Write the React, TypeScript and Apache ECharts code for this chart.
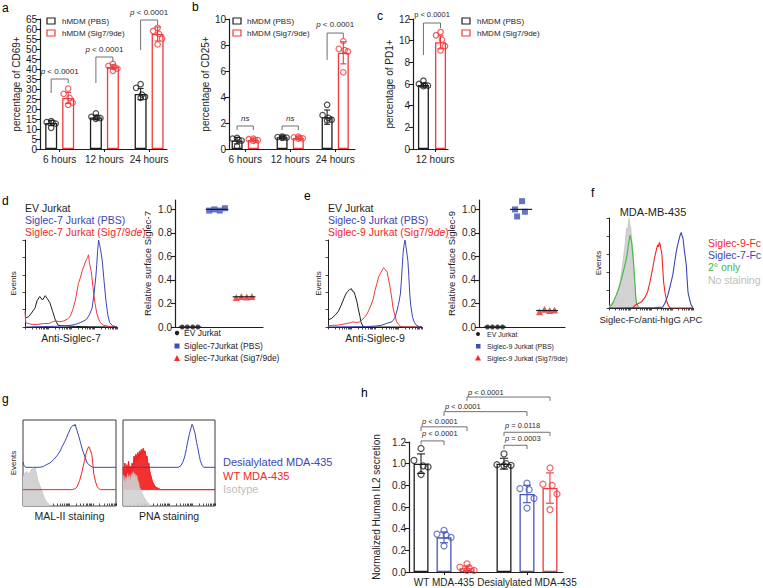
import { useEffect, useRef } from "react";
import * as echarts from "echarts";

const FONT = "'Liberation Sans', Arial, Helvetica, sans-serif";
const INK = "#1e1e1e";
const RED = "#f0393b";
const BLUE = "#4655c2";
const NAVY = "#3b45b3";
const GREEN = "#41b841";
const GREY = "#bcbcbc";
const GREY_FILL = "#d2d2d2";
const BRK = "#707070";

// ---------- panel a : CD69+
const A_CATS = ["6 hours", "12 hours", "24 hours"];
const A_PBS_MEAN = [13, 15.8, 27.5];
const A_PBS_SD = [1.3, 1.1, 2.8];
const A_SIG_MEAN = [25.5, 41, 57.5];
const A_SIG_SD = [2.8, 1.0, 3.5];
const A_PBS_DOTS = [[13.9, 10.6, 13.4, 12.7, 13.2], [17.8, 15.1, 16.1, 15.4, 15.7], [32.4, 25.6, 30.6, 26.1, 27.2]];
const A_SIG_DOTS = [[30.2, 22.1, 27.6, 23.2, 25.6], [42.6, 39.1, 41.6, 40.2, 41.0], [60.6, 52.3, 59.0, 55.2, 57.6]];

// ---------- panel b : CD25+
const B_CATS = ["6 hours", "12 hours", "24 hours"];
const B_PBS_MEAN = [0.65, 0.9, 2.45];
const B_PBS_SD = [0.25, 0.07, 0.55];
const B_SIG_MEAN = [0.7, 0.85, 7.4];
const B_SIG_SD = [0.07, 0.08, 0.85];
const B_PBS_DOTS = [[0.85, 0.2, 0.8, 0.65, 0.7], [0.95, 0.86, 0.92, 0.88, 0.9], [3.4, 2.2, 2.6, 2.25, 2.4]];
const B_SIG_DOTS = [[0.8, 0.62, 0.75, 0.68, 0.7], [0.95, 0.8, 0.9, 0.82, 0.86], [8.3, 5.9, 7.7, 7.5, 7.6]];

// ---------- panel c : PD1+
const C_CATS = ["12 hours"];
const C_PBS_MEAN = [5.9];
const C_PBS_SD = [0.18];
const C_SIG_MEAN = [9.85];
const C_SIG_SD = [0.6];
const C_PBS_DOTS = [[6.3, 5.8, 6.0, 5.85, 5.9]];
const C_SIG_DOTS = [[10.8, 9.1, 10.5, 9.5, 10.1]];

// ---------- panel h : IL2
const H_CATS = ["WT MDA-435", "Desialylated MDA-435"];
const H_CTRL_MEAN = [1.0, 1.0];
const H_CTRL_SD = [0.09, 0.05];
const H_S7_MEAN = [0.32, 0.72];
const H_S7_SD = [0.05, 0.08];
const H_S9_MEAN = [0.035, 0.775];
const H_S9_SD = [0.02, 0.14];
const H_CTRL_DOTS = [[1.14, 0.9, 1.03, 0.97, 0.98], [1.09, 0.98, 0.99, 0.985, 1.0]];
const H_S7_DOTS = [[0.385, 0.24, 0.35, 0.32, 0.34], [0.82, 0.59, 0.77, 0.68, 0.76]];
const H_S9_DOTS = [[0.075, 0.015, 0.045, 0.015, 0.04], [0.96, 0.575, 0.81, 0.72, 0.8]];

// ---------- panels d / e : relative surface siglec
const SC_TICKS = [0, 0.2, 0.4, 0.6, 0.8, 1.0];
const D_EV = [0, 0, 0, 0];
const D_PBS = [0.99, 1.0, 0.99, 1.01];
const D_SIG = [0.25, 0.26, 0.255, 0.26];
const D_MEANS = [0, 1.0, 0.257];
const E_EV = [0, 0, 0, 0];
const E_PBS = [1.0, 1.07, 0.98, 0.94];
const E_SIG = [0.13, 0.15, 0.14, 0.145];
const E_MEANS = [0, 1.0, 0.14];

// ---------- flow histograms (x: channel 0-100, y: events 0-100)
const D_H_EV = [[0, 10], [4, 12], [7, 16], [11, 22], [13, 30], [16, 35], [19, 31], [22, 36], [24, 33], [27, 28], [30, 18], [33, 8], [36, 2], [40, 1.5], [46, 1], [55, 0.6], [70, 0.3], [100, 0]];
const D_H_PBS = [[0, 0], [20, 0.5], [40, 1], [50, 2], [55, 3], [60, 5], [64, 7], [67, 9], [70, 14], [73, 22], [75, 38], [77, 58], [78, 72], [79, 88], [80, 100], [81, 95], [82, 90], [84, 76], [86, 52], [88, 30], [90, 14], [92, 5], [95, 1.5], [100, 0]];
const D_H_SIG = [[0, 18], [0.8, 5], [3, 4], [8, 3], [14, 3], [20, 4], [26, 4], [30, 6], [34, 7], [38, 6], [42, 7], [46, 9], [49, 12], [52, 20], [55, 32], [58, 50], [60, 56], [62, 64], [64, 70], [66, 76], [68, 80], [69, 83], [70, 74], [72, 64], [74, 45], [76, 28], [78, 16], [80, 9], [82, 5], [85, 2], [90, 1], [100, 0]];
const E_H_EV = [[0, 8], [4, 10], [8, 14], [11, 18], [14, 25], [17, 33], [19, 38], [21, 41], [23, 43], [25, 44], [26, 41], [28, 40], [29, 36], [31, 28], [32, 22], [34, 12], [35, 6], [37, 1], [40, 0], [100, 0]];
const E_H_PBS = [[0, 0], [40, 0.5], [50, 1], [57, 2], [62, 4], [68, 6], [71, 10], [73, 17], [75, 26], [77, 38], [78, 52], [79, 70], [80, 86], [81, 95], [82, 100], [83, 92], [85, 76], [86, 58], [87, 38], [88, 25], [90, 11], [92, 5], [94, 2], [97, 0.5], [100, 0]];
const E_H_SIG = [[0, 1], [5, 2], [10, 2], [15, 3], [20, 4], [24, 5], [27, 6], [30, 5], [34, 6], [39, 11], [42, 16], [45, 23], [48, 32], [50, 42], [52, 50], [54, 58], [56, 62], [58, 66], [59, 68], [61, 66], [63, 63], [64, 57], [66, 46], [68, 32], [69, 23], [71, 14], [73, 6], [75, 3], [77, 1], [80, 0], [100, 0]];
const F_H_NONE = [[0, 2], [1, 3], [4, 6], [7, 10], [10, 18], [13, 28], [15, 40], [17, 55], [19, 70], [20, 80], [21, 89], [22, 85], [23, 95], [24, 100], [25, 92], [26, 89], [27, 75], [28, 68], [29, 59], [30, 40], [31, 22], [32, 10], [33, 3], [34, 0], [100, 0]];
const F_H_2ND = [[0, 0], [1, 1], [3, 3], [5, 6], [7, 11], [9, 15], [11, 20], [13, 26], [15, 33], [17, 40], [19, 48], [21, 56], [22, 62], [23, 70], [24, 75], [25, 81], [26, 78], [27, 73], [28, 62], [29, 52], [30, 40], [31, 26], [32, 11], [33, 5], [35, 1], [37, 0]];
const F_H_S9 = [[28, 0], [31, 3], [35, 5], [39, 7], [43, 12], [46, 18], [49, 30], [52, 44], [54, 55], [57, 67], [58, 70], [59, 68], [60, 73], [61, 70], [63, 59], [64, 44], [65, 29], [67, 15], [69, 7], [71, 2], [73, 0], [100, 0]];
const F_H_S7 = [[0, 0], [55, 0.5], [64, 1], [67, 6], [70, 14], [73, 25], [76, 37], [78, 50], [80, 62], [81, 67], [83, 75], [85, 82], [86, 84], [87, 80], [88, 78], [90, 62], [92, 48], [93, 32], [94, 18], [96, 9], [98, 3], [100, 0]];
const G_MAL_DES = [[0, 51], [1, 47], [3, 45], [10, 45], [18, 45], [22, 46], [25, 48], [29, 50], [33, 54], [37, 59], [40, 64], [42, 69], [45, 75], [47, 80], [49, 85], [51, 90], [52, 92], [54, 94], [55, 93], [56, 95], [58, 88], [60, 81], [62, 73], [64, 65], [67, 56], [69, 50], [72, 47], [75, 45], [100, 45]];
const G_MAL_WT = [[0, 19], [53, 19], [56, 20], [58, 22], [61, 30], [63, 38], [66, 52], [68, 62], [70, 68], [71, 69], [72, 66], [74, 60], [75, 50], [76, 38], [78, 28], [80, 22], [83, 19], [100, 19]];
const G_MAL_ISO = [[0, 34], [2, 38], [4, 40], [6, 37], [8, 40], [10, 44], [11, 42], [13, 45], [14, 40], [16, 30], [18, 24], [20, 19], [22, 12], [24, 7], [26, 4], [29, 1], [32, 0], [100, 0]];
const G_PNA_DES = [[0, 45], [60, 45], [63, 47], [65, 51], [67, 57], [69, 67], [70, 73], [72, 83], [74, 91], [75, 95], [76, 93], [78, 86], [80, 74], [81, 69], [83, 58], [84, 53], [86, 47], [88, 45], [100, 45]];
const G_PNA_WT = [[0, 45], [1, 30], [2, 50], [3, 28], [4, 48], [5, 35], [6, 52], [7, 40], [8, 46], [9, 38], [10, 50], [11, 42], [12, 58], [13, 50], [14, 60], [15, 52], [16, 62], [17, 55], [18, 64], [19, 58], [20, 66], [21, 60], [22, 67], [23, 62], [24, 64], [25, 56], [26, 58], [27, 48], [28, 50], [29, 40], [30, 36], [31, 32], [32, 28], [33, 26], [34, 24], [35, 22], [37, 21], [39, 20], [41, 19], [100, 19]];
const G_PNA_WT_BASE = 19;
const G_PNA_ISO = [[0, 30], [1, 36], [2, 28], [3, 34], [4, 30], [5, 38], [6, 32], [7, 36], [8, 30], [9, 38], [10, 34], [11, 40], [12, 36], [13, 38], [14, 34], [15, 36], [16, 30], [17, 28], [18, 22], [19, 20], [20, 16], [22, 12], [24, 8], [26, 5], [28, 3], [30, 1], [32, 0], [100, 0]];

// ---------- significance annotations (data units)
const P4 = "{i|p} < 0.0001";
const A_BRACKETS = [
  { x1: 0.81, x2: 1.19, top: 35, legL: 28, legR: 33, ty: 38.8, text: P4 },
  { x1: 1.81, x2: 2.19, top: 46, legL: 33, legR: 43.5, ty: 49.8, text: P4 },
  { x1: 2.81, x2: 3.19, top: 64.5, legL: 49.5, legR: 62, ty: 68.3, text: P4 },
];
const B_BRACKETS = [
  { x1: 0.82, x2: 1.18, top: 1.77, legL: 1.46, legR: 1.46, ty: 2.38, text: "{i|ns}" },
  { x1: 1.82, x2: 2.18, top: 1.77, legL: 1.46, legR: 1.46, ty: 2.38, text: "{i|ns}" },
  { x1: 2.82, x2: 3.18, top: 8.92, legL: 6.85, legR: 8.54, ty: 9.54, text: P4 },
];
const C_BRACKETS = [{ x1: 0.81, x2: 1.19, top: 11.63, legL: 8.68, legR: 11.17, ty: 12.37, text: "p < 0.0001" }];
const H_BRACKETS = [
  { x1: 0.723, x2: 1, top: 1.21, legL: 1.18, legR: 1.17, ty: 1.28, text: P4 },
  { x1: 0.723, x2: 1.277, top: 1.34, legL: 1.3, legR: 1.3, ty: 1.39, text: P4 },
  { x1: 1, x2: 2, top: 1.48, legL: 1.44, legR: 1.44, ty: 1.53, text: P4 },
  { x1: 1.277, x2: 2.277, top: 1.615, legL: 1.58, legR: 1.58, ty: 1.66, text: P4 },
  { x1: 1.723, x2: 2.277, top: 1.29, legL: 1.255, legR: 1.255, ty: 1.355, text: "{i|p} = 0.0118" },
  { x1: 1.723, x2: 2, top: 1.17, legL: 1.135, legR: 1.135, ty: 1.23, text: "{i|p} = 0.0003" },
];

// ---------- layout helpers (positions, not data)
const JIT = [0, 0, -0.1, 0.1, 0.03];
const OFF4 = [-0.29, -0.1, 0.1, 0.29];
const E_PBS_OFF = [-0.23, 0.04, 0.15, -0.15];
const DECADE_OFF = [0, 7.5, 11.9, 15.1, 17.5, 19.5, 21.1, 22.6, 23.9];
const LOG_TICKS = [0, 25, 50, 75].flatMap((d) => DECADE_OFF.map((o) => d + o)).concat([100]);
const EV_TICKS = [0, 20, 40, 60, 80, 100];

type Group = { x: number; mean: number; sd: number; dots: number[]; color: string };

function groupsFor(centers: number[], off: number, means: number[], sds: number[], dots: number[][], color: string): Group[] {
  return centers.map((c, i) => ({ x: c + off, mean: means[i], sd: sds[i], dots: dots[i], color }));
}

function barSeries(ax: number, groups: Group[], barWidth: number, cap: number, jitScale: number, dotSize: number) {
  return [
    {
      type: "bar", xAxisIndex: ax, yAxisIndex: ax, barWidth, silent: true, z: 2,
      data: groups.map((g) => ({ value: [g.x, g.mean], itemStyle: { color: "#ffffff", borderColor: g.color, borderWidth: 1.3 } })),
    },
    {
      type: "custom", xAxisIndex: ax, yAxisIndex: ax, clip: false, silent: true, z: 3,
      data: groups.map((g) => [g.x, g.mean]),
      renderItem: (params: any, api: any) => {
        const g = groups[params.dataIndex];
        const t = api.coord([g.x, g.mean + g.sd]);
        const b = api.coord([g.x, Math.max(0, g.mean - g.sd)]);
        const st = { stroke: g.color, lineWidth: 1.1 };
        return {
          type: "group",
          children: [
            { type: "line", shape: { x1: t[0], y1: t[1], x2: b[0], y2: b[1] }, style: st },
            { type: "line", shape: { x1: t[0] - cap, y1: t[1], x2: t[0] + cap, y2: t[1] }, style: st },
            { type: "line", shape: { x1: b[0] - cap, y1: b[1], x2: b[0] + cap, y2: b[1] }, style: st },
          ],
        };
      },
    },
    {
      type: "scatter", xAxisIndex: ax, yAxisIndex: ax, symbol: "circle", symbolSize: dotSize, silent: true, z: 4,
      data: groups.flatMap((g) =>
        g.dots.map((v, i) => ({ value: [g.x + JIT[i % JIT.length] * jitScale, v], itemStyle: { color: "rgba(255,255,255,0)", borderColor: g.color, borderWidth: 1.2 } }))
      ),
    },
  ];
}

type Bracket = { x1: number; x2: number; top: number; legL: number; legR: number; ty: number; text: string };
function bracketSeries(ax: number, list: Bracket[], align: "center" | "left", fontSize: number) {
  return {
    type: "custom", xAxisIndex: ax, yAxisIndex: ax, clip: false, silent: true, z: 5,
    data: list.map((b) => [b.x1, b.top]),
    renderItem: (params: any, api: any) => {
      const b = list[params.dataIndex];
      const l = api.coord([b.x1, b.top]);
      const r = api.coord([b.x2, b.top]);
      const lb = api.coord([b.x1, b.legL]);
      const rb = api.coord([b.x2, b.legR]);
      const tp = api.coord([align === "center" ? (b.x1 + b.x2) / 2 : b.x1, b.ty]);
      return {
        type: "group",
        children: [
          { type: "polyline", shape: { points: [lb, l, r, rb] }, style: { stroke: BRK, fill: "none", lineWidth: 1 } },
          {
            type: "text", x: tp[0] + (align === "left" ? 1 : 0), y: tp[1],
            style: {
              text: b.text, fill: "#2a2a2a", fontSize, fontFamily: FONT, align, verticalAlign: "middle",
              rich: { i: { fontStyle: "italic", fontSize, fontFamily: FONT, fill: "#2a2a2a" } },
            },
          },
        ],
      };
    },
  };
}

function scatterGroupSeries(ax: number, x: number, values: number[], offs: number[], symbol: string, size: number, color: string) {
  return {
    type: "scatter", xAxisIndex: ax, yAxisIndex: ax, symbol, symbolSize: size, silent: true, z: 4,
    itemStyle: { color },
    data: values.map((v, i) => [x + offs[i], v]),
  };
}

function meanLineSeries(ax: number, xs: number[], means: number[], colors: string[], half: number) {
  return {
    type: "custom", xAxisIndex: ax, yAxisIndex: ax, clip: false, silent: true, z: 5,
    data: xs.map((x, i) => [x, means[i]]),
    renderItem: (params: any, api: any) => {
      const i = params.dataIndex;
      const a = api.coord([xs[i] - half, means[i]]);
      const b = api.coord([xs[i] + half, means[i]]);
      return { type: "line", shape: { x1: a[0], y1: a[1], x2: b[0], y2: b[1] }, style: { stroke: colors[i], lineWidth: 1.2 } };
    },
  };
}

function histLine(ax: number, data: number[][], color: string, width: number, z: number, area?: any) {
  const s: any = {
    type: "line", xAxisIndex: ax, yAxisIndex: ax, data, symbol: "none", showSymbol: false, silent: true, z,
    lineStyle: { color, width }, itemStyle: { color },
  };
  if (area) s.areaStyle = area;
  return s;
}

// filled histogram whose fill sits on a raised baseline (offset overlay)
function raisedFill(ax: number, data: number[][], base: number, color: string, z: number) {
  return {
    type: "custom", xAxisIndex: ax, yAxisIndex: ax, clip: true, silent: true, z,
    data: [data[0]],
    renderItem: (_p: any, api: any) => {
      const pts = data.filter((d) => d[1] > base || d[0] === data[0][0]).map((d) => api.coord(d));
      const lastX = data.filter((d) => d[1] > base).slice(-1)[0][0];
      const b0 = api.coord([data[0][0], base]);
      const b1 = api.coord([lastX + 2, base]);
      return { type: "polygon", shape: { points: [b0, ...pts, b1] }, style: { fill: color, stroke: color, lineWidth: 0.8, opacity: 0.95 } };
    },
  };
}

const lineSt = { color: INK, width: 1.2 };
const labelSt = (fontSize: number) => ({ fontSize, color: INK, fontFamily: FONT });

function catX(grid: number, min: number, max: number, cats: string[], pos: number[], fontSize: number) {
  return {
    type: "value", gridIndex: grid, min, max, splitLine: { show: false },
    axisLine: { show: true, onZero: false, lineStyle: lineSt },
    axisTick: { show: true, customValues: pos, length: 3, lineStyle: { color: INK, width: 1.1 } },
    axisLabel: {
      show: true, customValues: pos, margin: 5, ...labelSt(fontSize),
      formatter: (v: number) => { const k = pos.findIndex((p) => Math.abs(p - v) < 1e-6); return k >= 0 ? cats[k] : ""; },
    },
  };
}

function valY(grid: number, min: number, max: number, interval: number, name: string, nameGap: number, fmt?: (v: number) => string) {
  return {
    type: "value", gridIndex: grid, min, max, interval, splitLine: { show: false },
    axisLine: { show: true, lineStyle: lineSt },
    axisTick: { show: true, length: 4, lineStyle: { color: INK, width: 1.1 } },
    axisLabel: { margin: 3, ...labelSt(10), formatter: fmt },
    name, nameLocation: "middle", nameGap, nameRotate: 90, nameTextStyle: labelSt(10),
  };
}

function histX(grid: number, name: string, nameGap: number, fontSize: number) {
  return {
    type: "value", gridIndex: grid, min: 0, max: 100, splitLine: { show: false },
    axisLine: { show: true, onZero: false, lineStyle: { color: INK, width: 1 } },
    axisTick: { show: true, customValues: LOG_TICKS, length: 2.5, lineStyle: { color: INK, width: 0.8 } },
    axisLabel: { show: false },
    name, nameLocation: "middle", nameGap, nameTextStyle: labelSt(fontSize),
  };
}
function histY(grid: number, name: string, nameGap: number) {
  return {
    type: "value", gridIndex: grid, min: 0, max: 100, splitLine: { show: false },
    axisLine: { show: true, lineStyle: { color: INK, width: 1 } },
    axisTick: { show: true, customValues: EV_TICKS, length: 2.5, lineStyle: { color: INK, width: 0.8 } },
    axisLabel: { show: false },
    name, nameLocation: "middle", nameGap, nameRotate: 90, nameTextStyle: labelSt(8),
  };
}
function boxX(grid: number, name: string) {
  return {
    type: "value", gridIndex: grid, min: 0, max: 100, splitLine: { show: false },
    axisLine: { show: false },
    axisTick: { show: true, inside: true, customValues: LOG_TICKS, length: 2.5, lineStyle: { color: INK, width: 0.8 } },
    axisLabel: { show: false },
    name, nameLocation: "middle", nameGap: 4, nameTextStyle: labelSt(10.5),
  };
}
function boxY(grid: number, name: string) {
  return {
    type: "value", gridIndex: grid, min: 0, max: 100, splitLine: { show: false },
    axisLine: { show: false }, axisTick: { show: false }, axisLabel: { show: false },
    name, nameLocation: "middle", nameGap: 5.5, nameRotate: 90, nameTextStyle: labelSt(8),
  };
}
function scX(grid: number, min: number, max: number) {
  return {
    type: "value", gridIndex: grid, min, max, splitLine: { show: false },
    axisLine: { show: true, onZero: false, lineStyle: lineSt }, axisTick: { show: false }, axisLabel: { show: false },
  };
}
function scY(grid: number, name: string, nameGap: number) {
  return {
    type: "value", gridIndex: grid, min: 0, max: 1.08, splitLine: { show: false },
    axisLine: { show: true, lineStyle: lineSt },
    axisTick: { show: true, customValues: SC_TICKS, length: 4, lineStyle: { color: INK, width: 1.1 } },
    axisLabel: { customValues: SC_TICKS, margin: 3, ...labelSt(10), formatter: (v: number) => v.toFixed(1) },
    name, nameLocation: "middle", nameGap, nameRotate: 90, nameTextStyle: labelSt(9.5),
  };
}

function txt(x: number, y: number, text: string, fontSize: number, fill: string, align: string = "left", rich?: any) {
  return {
    type: "text", x, y, silent: true,
    style: { text, fill, fontSize, fontFamily: FONT, align, verticalAlign: "middle", textAlign: align, textVerticalAlign: "middle", rich },
  };
}
function box(x: number, y: number, color: string) {
  return { type: "rect", silent: true, shape: { x, y, width: 8, height: 6 }, style: { fill: "#ffffff", stroke: color, lineWidth: 1.2 } };
}
function italicDe(color: string, size: number) {
  return { i: { fontStyle: "italic", fill: color, fontSize: size, fontFamily: FONT } };
}

function buildOption() {
  const aCenters = [1, 2, 3];
  const A_G = [...groupsFor(aCenters, -0.19, A_PBS_MEAN, A_PBS_SD, A_PBS_DOTS, INK), ...groupsFor(aCenters, 0.19, A_SIG_MEAN, A_SIG_SD, A_SIG_DOTS, RED)];
  const B_G = [...groupsFor(aCenters, -0.18, B_PBS_MEAN, B_PBS_SD, B_PBS_DOTS, INK), ...groupsFor(aCenters, 0.18, B_SIG_MEAN, B_SIG_SD, B_SIG_DOTS, RED)];
  const C_G = [...groupsFor([1], -0.19, C_PBS_MEAN, C_PBS_SD, C_PBS_DOTS, INK), ...groupsFor([1], 0.19, C_SIG_MEAN, C_SIG_SD, C_SIG_DOTS, RED)];
  const hC = [1, 2];
  const H_G = [
    ...groupsFor(hC, -0.277, H_CTRL_MEAN, H_CTRL_SD, H_CTRL_DOTS, INK),
    ...groupsFor(hC, 0, H_S7_MEAN, H_S7_SD, H_S7_DOTS, BLUE),
    ...groupsFor(hC, 0.277, H_S9_MEAN, H_S9_SD, H_S9_DOTS, RED),
  ];

  const grid = [
    { left: 40, top: 19, width: 127, height: 130 },
    { left: 229, top: 19, width: 126, height: 130 },
    { left: 413, top: 19, width: 35, height: 130 },
    { left: 25, top: 240, width: 92, height: 87 },
    { left: 175, top: 200, width: 88, height: 127 },
    { left: 328, top: 240, width: 94, height: 87 },
    { left: 479, top: 200, width: 86, height: 127 },
    { left: 609, top: 218, width: 84, height: 90 },
    { left: 23, top: 420, width: 93, height: 86, show: true, borderColor: "#3a3a3a", borderWidth: 1 },
    { left: 123, top: 420, width: 92, height: 86, show: true, borderColor: "#3a3a3a", borderWidth: 1 },
    { left: 409, top: 442, width: 154, height: 130 },
  ];

  const xAxis = [
    catX(0, 0.56, 3.4, A_CATS, aCenters, 10),
    catX(1, 0.64, 3.44, B_CATS, aCenters, 10),
    catX(2, 0.578, 1.356, C_CATS, [1.07], 10),
    histX(3, "Anti-Siglec-7", 5, 10.5),
    scX(4, 0.444, 3.7),
    histX(5, "Anti-Siglec-9", 5, 10.5),
    scX(6, 0.385, 3.69),
    histX(7, "Siglec-Fc/anti-hIgG APC", 6, 9.5),
    boxX(8, "MAL-II staining"),
    boxX(9, "PNA staining"),
    catX(10, 0.578, 2.434, H_CATS, hC, 10),
  ];
  const yAxis = [
    valY(0, 0, 65, 5, "percentage of CD69+", 18),
    valY(1, 0, 10, 2, "percentage of CD25+", 17),
    valY(2, 0, 12, 2, "percentage of PD1+", 14.5),
    histY(3, "Events", 7.5),
    scY(4, "Relative surface Siglec-7", 23),
    histY(5, "Events", 5.5),
    scY(6, "Relative surface Siglec-9", 22.5),
    histY(7, "Events", 6.5),
    boxY(8, "Events"),
    boxY(9, ""),
    valY(10, 0, 1.2, 0.2, "Normalized Human IL2 secretion", 28, (v: number) => v.toFixed(1)),
  ];

  const series: any[] = [
    ...barSeries(0, A_G, 12, 3, 1, 5.5),
    bracketSeries(0, A_BRACKETS, "center", 8),
    ...barSeries(1, B_G, 11, 3, 1, 5.5),
    bracketSeries(1, B_BRACKETS, "center", 8),
    ...barSeries(2, C_G, 11, 3, 1, 5.5),
    bracketSeries(2, C_BRACKETS, "center", 7.5),
    ...barSeries(10, H_G, 15, 4, 0.85, 6),
    bracketSeries(10, H_BRACKETS, "left", 7.5),
    // d histogram
    histLine(3, D_H_EV, INK, 1, 3),
    histLine(3, D_H_SIG, RED, 1, 4),
    histLine(3, D_H_PBS, NAVY, 1, 5),
    // d scatter
    scatterGroupSeries(4, 1, D_EV, OFF4, "circle", 5, INK),
    scatterGroupSeries(4, 2, D_PBS, OFF4, "rect", 6, "#3d50b8"),
    scatterGroupSeries(4, 3, D_SIG, OFF4, "triangle", 7, "#f22a2a"),
    meanLineSeries(4, [1, 2, 3], D_MEANS, [INK, INK, INK], 0.42),
    // e histogram
    histLine(5, E_H_EV, INK, 1, 3),
    histLine(5, E_H_SIG, RED, 1, 4),
    histLine(5, E_H_PBS, NAVY, 1, 5),
    // e scatter
    scatterGroupSeries(6, 1, E_EV, OFF4, "circle", 5, INK),
    scatterGroupSeries(6, 2, E_PBS, E_PBS_OFF, "rect", 6, "#3d50b8"),
    scatterGroupSeries(6, 3, E_SIG, OFF4, "triangle", 7, "#f22a2a"),
    meanLineSeries(6, [1, 2, 3], E_MEANS, [INK, INK, INK], 0.42),
    // f histogram
    histLine(7, F_H_NONE, GREY, 0.6, 2, { color: GREY_FILL, opacity: 1 }),
    histLine(7, F_H_2ND, GREEN, 1.1, 3),
    histLine(7, F_H_S9, "#f22424", 1.1, 4),
    histLine(7, F_H_S7, NAVY, 1.1, 5),
    // g MAL-II
    histLine(8, G_MAL_ISO, GREY, 0.6, 2, { color: GREY_FILL, opacity: 1 }),
    histLine(8, G_MAL_WT, "#f22424", 1, 3),
    histLine(8, G_MAL_DES, NAVY, 1, 4),
    // g PNA
    raisedFill(9, G_PNA_WT, G_PNA_WT_BASE, "#f22424", 2),
    histLine(9, G_PNA_WT, "#f22424", 1.1, 3),
    histLine(9, G_PNA_ISO, GREY, 0.6, 4, { color: GREY_FILL, opacity: 0.9 }),
    histLine(9, G_PNA_DES, NAVY, 1, 5),
  ];

  const graphic = [
    txt(2, 8, "a", 12, "#000"),
    txt(192, 7, "b", 12, "#000"),
    txt(377, 16, "c", 12, "#000"),
    txt(2, 201, "d", 12, "#000"),
    txt(304, 196, "e", 12, "#000"),
    txt(591, 193, "f", 12, "#000"),
    txt(2, 399, "g", 12, "#000"),
    txt(361, 393, "h", 12, "#000"),
    // bar legends
    box(47, 18, INK), txt(62, 21, "hMDM (PBS)", 8, INK),
    box(47, 30, RED), txt(62, 33, "hMDM (Sig7/9de)", 8, INK),
    box(233, 18, INK), txt(247, 21, "hMDM (PBS)", 8, INK),
    box(233, 30, RED), txt(247, 33, "hMDM (Sig7/9de)", 8, INK),
    box(462, 18, INK), txt(477, 21, "hMDM (PBS)", 8, INK),
    box(462, 30, RED), txt(477, 33, "hMDM (Sig7/9de)", 8, INK),
    // d histogram legend
    txt(25, 208, "EV Jurkat", 10.5, INK),
    txt(25, 220, "Siglec-7 Jurkat (PBS)", 10.5, NAVY),
    txt(25, 232, "Siglec-7 Jurkat (Sig7/9{i|de})", 10.5, "#f02828", "left", italicDe("#f02828", 10.5)),
    // e histogram legend
    txt(328, 208, "EV Jurkat", 10.5, INK),
    txt(328, 220, "Siglec-9 Jurkat (PBS)", 10.5, NAVY),
    txt(328, 232, "Siglec-9 Jurkat (Sig7/9{i|de})", 10.5, "#f02828", "left", italicDe("#f02828", 10.5)),
    // d scatter legend
    { type: "circle", silent: true, shape: { cx: 177, cy: 333, r: 2.2 }, style: { fill: INK } },
    txt(184, 333, "EV Jurkat", 8.5, INK),
    { type: "rect", silent: true, shape: { x: 174.5, y: 343.5, width: 5, height: 5 }, style: { fill: "#3d50b8" } },
    txt(184, 346, "Siglec-7Jurkat (PBS)", 8.5, INK),
    { type: "polygon", silent: true, shape: { points: [[177, 355], [180, 361], [174, 361]] }, style: { fill: "#f22a2a" } },
    txt(184, 358, "Siglec-7Jurkat (Sig7/9de)", 8.5, INK),
    // e scatter legend
    { type: "circle", silent: true, shape: { cx: 478, cy: 334, r: 2 }, style: { fill: INK } },
    txt(487, 334, "EV Jurkat", 7, INK),
    { type: "rect", silent: true, shape: { x: 476, y: 344, width: 4.5, height: 4.5 }, style: { fill: "#3d50b8" } },
    txt(487, 346, "Siglec-9 Jurkat (PBS)", 7, INK),
    { type: "polygon", silent: true, shape: { points: [[478, 355], [481, 360.5], [475, 360.5]] }, style: { fill: "#f22a2a" } },
    txt(487, 358, "Siglec-9 Jurkat (Sig7/9de)", 7, INK),
    // f
    txt(653, 212, "MDA-MB-435", 11, INK, "center"),
    txt(708, 243, "Siglec-9-Fc", 10.5, "#f02828"),
    txt(708, 255, "Siglec-7-Fc", 10.5, NAVY),
    txt(708, 267, "2° only", 10.5, GREEN),
    txt(708, 280, "No staining", 10.5, "#bdbdbd"),
    // g
    txt(223, 462, "Desialylated MDA-435", 11, NAVY),
    txt(223, 476, "WT MDA-435", 11, "#f02828"),
    txt(223, 489, "Isotype", 11, "#bdbdbd"),
  ];

  return { animation: false, backgroundColor: "#ffffff", textStyle: { fontFamily: FONT }, grid, xAxis, yAxis, series, graphic };
}

export default function App() {
  const ref = useRef<HTMLDivElement>(null);
  useEffect(() => {
    if (!ref.current) return;
    const chart = echarts.init(ref.current, undefined, { renderer: "svg" });
    chart.setOption(buildOption() as any);
    return () => chart.dispose();
  }, []);
  return <div ref={ref} style={{ position: "fixed", left: 0, top: 0, width: 763, height: 588, background: "#fff" }} />;
}
